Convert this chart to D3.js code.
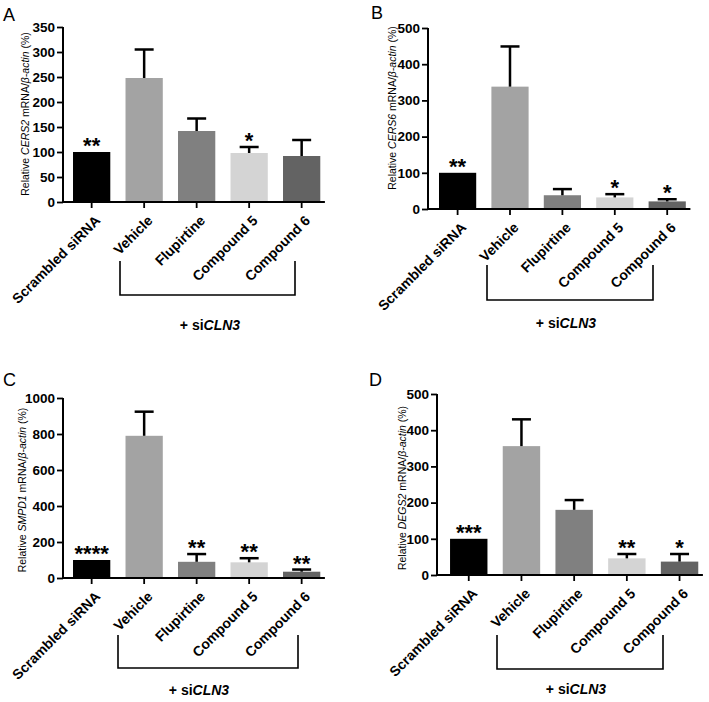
<!DOCTYPE html>
<html>
<head>
<meta charset="utf-8">
<script src="https://cdn.jsdelivr.net/npm/d3@7"></script>
<style>
  html, body { margin: 0; padding: 0; background: #fff; }
  svg { display: block; font-family: "Liberation Sans", Arial, sans-serif; }
</style>
</head>
<body>
<svg id="chart" width="709" height="702"></svg>
<script>
// ---------- data ----------
const categories = ["Scrambled siRNA", "Vehicle", "Flupirtine", "Compound 5", "Compound 6"];

const cers2Mean  = [100, 248, 142, 98, 92];
const cers2Err   = [0, 57, 25, 12, 32];
const cers2Stars = ["**", "", "", "*", ""];
const cers2Ticks = [0, 50, 100, 150, 200, 250, 300, 350];

const cers6Mean  = [100, 338, 38, 32, 21];
const cers6Err   = [0, 111, 17, 9, 6];
const cers6Stars = ["**", "", "", "*", "*"];
const cers6Ticks = [0, 100, 200, 300, 400, 500];

const smpd1Mean  = [100, 790, 90, 87, 35];
const smpd1Err   = [0, 134, 43, 23, 12];
const smpd1Stars = ["****", "", "**", "**", "**"];
const smpd1Ticks = [0, 200, 400, 600, 800, 1000];

const degs2Mean  = [100, 356, 180, 46, 37];
const degs2Err   = [0, 74, 27, 12, 21];
const degs2Stars = ["***", "", "", "**", "*"];
const degs2Ticks = [0, 100, 200, 300, 400, 500];

const panelLetters = ["A", "B", "C", "D"];
const geneNames = ["CERS2", "CERS6", "SMPD1", "DEGS2"];
const groupLabel = ["+ si", "CLN3"];

// ---------- styles / layout ----------
const barColors = ["#000000", "#a3a3a3", "#808080", "#d4d4d4", "#636363"];

const panels = [
  { letter: panelLetters[0], gene: geneNames[0], mean: cers2Mean, err: cers2Err, stars: cers2Stars, ticks: cers2Ticks,
    axisX: 63, y0: 202, yTop: 27, r0: 65.4, r1: 327.9, lx: 3, ly: 21, ylabX: 29, ylabY: 114,
    br: { x1: 120, x2: 295, yT: 261, yB: 295 }, grp: { x: 210, y: 330 } },
  { letter: panelLetters[1], gene: geneNames[1], mean: cers6Mean, err: cers6Err, stars: cers6Stars, ticks: cers6Ticks,
    axisX: 428, y0: 209, yTop: 28, r0: 431.4, r1: 693.4, lx: 371, ly: 19, ylabX: 396, ylabY: 108,
    br: { x1: 487, x2: 653, yT: 265, yB: 300 }, grp: { x: 566, y: 328 } },
  { letter: panelLetters[2], gene: geneNames[2], mean: smpd1Mean, err: smpd1Err, stars: smpd1Stars, ticks: smpd1Ticks,
    axisX: 63, y0: 578, yTop: 398, r0: 65.4, r1: 327.9, lx: 3, ly: 386, ylabX: 26, ylabY: 490,
    br: { x1: 118, x2: 298, yT: 635, yB: 668 }, grp: { x: 199, y: 695 } },
  { letter: panelLetters[3], gene: geneNames[3], mean: degs2Mean, err: degs2Err, stars: degs2Stars, ticks: degs2Ticks,
    axisX: 437, y0: 575, yTop: 394, r0: 442.4, r1: 705.9, lx: 369, ly: 386, ylabX: 406, ylabY: 488,
    br: { x1: 497, x2: 663, yT: 635, yB: 669 }, grp: { x: 576, y: 694 } }
];

const svg = d3.select("#chart");
svg.append("rect").attr("width", 709).attr("height", 702).attr("fill", "#fff");

panels.forEach(p => {
  const g = svg.append("g");
  const ticks = p.ticks;
  const y = d3.scaleLinear().domain([0, ticks[ticks.length - 1]]).range([p.y0, p.yTop]);
  const x = d3.scaleBand().domain(categories).range([p.r0, p.r1]).paddingInner(0.29).paddingOuter(0.145);

  const rows = categories.map((c, i) => ({ c, i, m: p.mean[i], e: p.err[i], s: p.stars[i] }));

  // bars
  g.selectAll("rect.bar").data(rows).enter().append("rect")
    .attr("class", "bar")
    .attr("x", d => x(d.c))
    .attr("width", x.bandwidth())
    .attr("y", d => y(d.m))
    .attr("height", d => y(0) - y(d.m))
    .attr("fill", d => barColors[d.i]);

  // error bars (upper only)
  const eb = rows.filter(d => d.e > 0);
  g.selectAll("line.ev").data(eb).enter().append("line")
    .attr("x1", d => x(d.c) + x.bandwidth() / 2).attr("x2", d => x(d.c) + x.bandwidth() / 2)
    .attr("y1", d => y(d.m)).attr("y2", d => y(d.m + d.e))
    .attr("stroke", "#000").attr("stroke-width", 2.5);
  g.selectAll("line.ec").data(eb).enter().append("line")
    .attr("x1", d => x(d.c) + x.bandwidth() / 2 - 9.5).attr("x2", d => x(d.c) + x.bandwidth() / 2 + 9.5)
    .attr("y1", d => y(d.m + d.e)).attr("y2", d => y(d.m + d.e))
    .attr("stroke", "#000").attr("stroke-width", 2.5);

  // stars
  g.selectAll("text.star").data(rows.filter(d => d.s)).enter().append("text")
    .attr("x", d => x(d.c) + x.bandwidth() / 2)
    .attr("y", d => y(d.m + d.e) + 1)
    .attr("text-anchor", "middle")
    .attr("font-size", 22).attr("font-weight", "bold")
    .text(d => d.s);

  // y axis
  const yAxis = d3.axisLeft(y).tickValues(ticks).tickSize(6).tickPadding(2).tickFormat(d3.format("d"));
  const ya = g.append("g").attr("transform", `translate(${p.axisX},0)`).call(yAxis);
  ya.select(".domain").remove();
  ya.selectAll(".tick line").attr("stroke", "#000").attr("stroke-width", 1.8);
  ya.selectAll(".tick text").attr("font-size", 13.5).attr("font-weight", "bold")
    .attr("font-family", "Liberation Sans, Arial, sans-serif").attr("fill", "#000");
  g.append("line").attr("x1", p.axisX).attr("x2", p.axisX).attr("y1", p.y0 + 1).attr("y2", p.yTop)
    .attr("stroke", "#000").attr("stroke-width", 2);

  // x axis
  const xAxis = d3.axisBottom(x).tickSize(6).tickFormat("");
  const xa = g.append("g").attr("transform", `translate(0,${p.y0})`).call(xAxis);
  xa.select(".domain").remove();
  xa.selectAll(".tick line").attr("stroke", "#000").attr("stroke-width", 1.8);
  g.append("line").attr("x1", p.axisX - 1).attr("x2", p.r1 - 3).attr("y1", p.y0).attr("y2", p.y0)
    .attr("stroke", "#000").attr("stroke-width", 2);

  // x labels rotated
  g.selectAll("text.xl").data(rows).enter().append("text")
    .attr("transform", d => `translate(${x(d.c) + x.bandwidth() / 2 + 6},${p.y0 + 16}) rotate(-45)`)
    .attr("text-anchor", "end").attr("dy", "0.35em")
    .attr("font-size", 14).attr("font-weight", "bold")
    .text(d => d.c);

  // y label
  const yl = g.append("text")
    .attr("transform", `translate(${p.ylabX},${p.ylabY}) rotate(-90)`)
    .attr("text-anchor", "middle").attr("font-size", 10.5);
  yl.append("tspan").text("Relative ");
  yl.append("tspan").attr("font-style", "italic").text(p.gene);
  yl.append("tspan").text(" mRNA/");
  yl.append("tspan").attr("font-style", "italic").text("\u03B2-actin");
  yl.append("tspan").text(" (%)");

  // panel letter
  g.append("text").attr("x", p.lx).attr("y", p.ly).attr("font-size", 18).text(p.letter);

  // bracket
  g.append("path")
    .attr("d", `M${p.br.x1},${p.br.yT}V${p.br.yB}H${p.br.x2}V${p.br.yT}`)
    .attr("fill", "none").attr("stroke", "#000").attr("stroke-width", 1.6);

  // group label
  const gl = g.append("text").attr("x", p.grp.x).attr("y", p.grp.y)
    .attr("text-anchor", "middle").attr("font-size", 14).attr("font-weight", "bold");
  gl.append("tspan").text(groupLabel[0]);
  gl.append("tspan").attr("font-style", "italic").text(groupLabel[1]);
});
</script>
</body>
</html>
